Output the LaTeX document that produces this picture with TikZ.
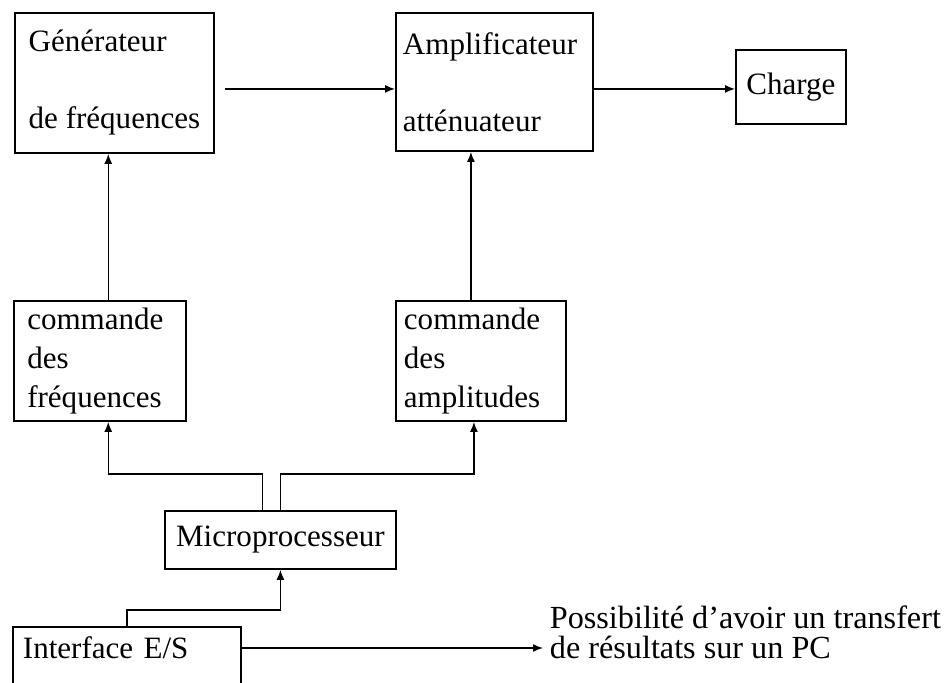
\documentclass[tikz,border=0pt]{standalone}
\usepackage{fontspec}
\setmainfont{Liberation Serif}
\usetikzlibrary{arrows.meta}
\tikzset{
  bloc/.style={draw,line width=1.6pt,align=left,anchor=north west,inner ysep=0.1cm,font=\fontsize{26.5}{33}\selectfont},
  fil/.style={line width=1.2pt},
  fleche/.style={fil,-{Latex[length=0.3cm,width=0.24cm]}}
}
\begin{document}
\begin{tikzpicture}[x=0.03cm,y=-0.03cm]
\useasboundingbox(0,0)rectangle(945,683);
\clip(0,0)rectangle(945,683);
\node[bloc,minimum width=5.97cm,minimum height=4.2cm](gen)at(14,12){Générateur\\[1.15cm]de fréquences};
\node[bloc,inner xsep=0.21cm,text width=5.49cm,minimum height=4.14cm](ampli)at(395,12){Amplificateur\\[1.15cm]atténuateur};
\node[bloc,align=center,minimum width=3.3cm,minimum height=2.22cm](charge)at(735,49){Charge};
\foreach \n/\x/\s/\w/\t in {cmdfreq/13/0.4/4.36/fréquences,cmdamp/395/0.24/4.62/amplitudes}
  \node[bloc,inner xsep=\s cm,text width=\w cm,minimum height=3.6cm](\n)at(\x,300){commande\\des\\\t};
\node[bloc,align=center,minimum width=6.93cm,minimum height=1.74cm](micro)at(164,510){Microprocesseur};
\node[bloc,anchor=base west,inner xsep=0.3cm,text width=6.24cm,text height=0.83cm,text depth=2cm](iface)at(12,658){Interface E/S};
\node[anchor=west,align=left,inner sep=0.2cm,font=\fontsize{27.5}{25.5}\selectfont](pc)at(543,632){Possibilité d'avoir un transfert\\de résultats sur un PC};
\coordinate(g1)at([xshift=0.3cm,yshift=-0.18cm]gen.east);
\coordinate(a1)at([yshift=-0.21cm]ampli.east);
\coordinate(f1)at([xshift=0.25cm]cmdfreq.north);
\coordinate(m1)at([xshift=-0.3cm]cmdamp.north);
\coordinate(f2)at([xshift=0.25cm]cmdfreq.south);
\coordinate(m2)at([xshift=-0.21cm]cmdamp.south);
\coordinate(pcin)at([yshift=-0.48cm]pc.west);
\draw[fleche](g1)--(g1-|ampli.west);
\draw[fleche](a1)--(a1-|charge.west);
\draw[fleche](f1)--(f1|-gen.south);
\draw[fleche](m1)--(m1|-ampli.south);
\draw[fleche]([xshift=-0.53cm]micro.north)|-([yshift=-1.56cm]f2)--(f2);
\draw[fleche](micro.north)|-([yshift=-1.56cm]m2)--(m2);
\draw[fleche](iface.north)|-([yshift=-1.2cm]micro.south)--(micro.south);
\draw[fleche](iface.east|-pcin)--(pcin);
\end{tikzpicture}
\end{document}
